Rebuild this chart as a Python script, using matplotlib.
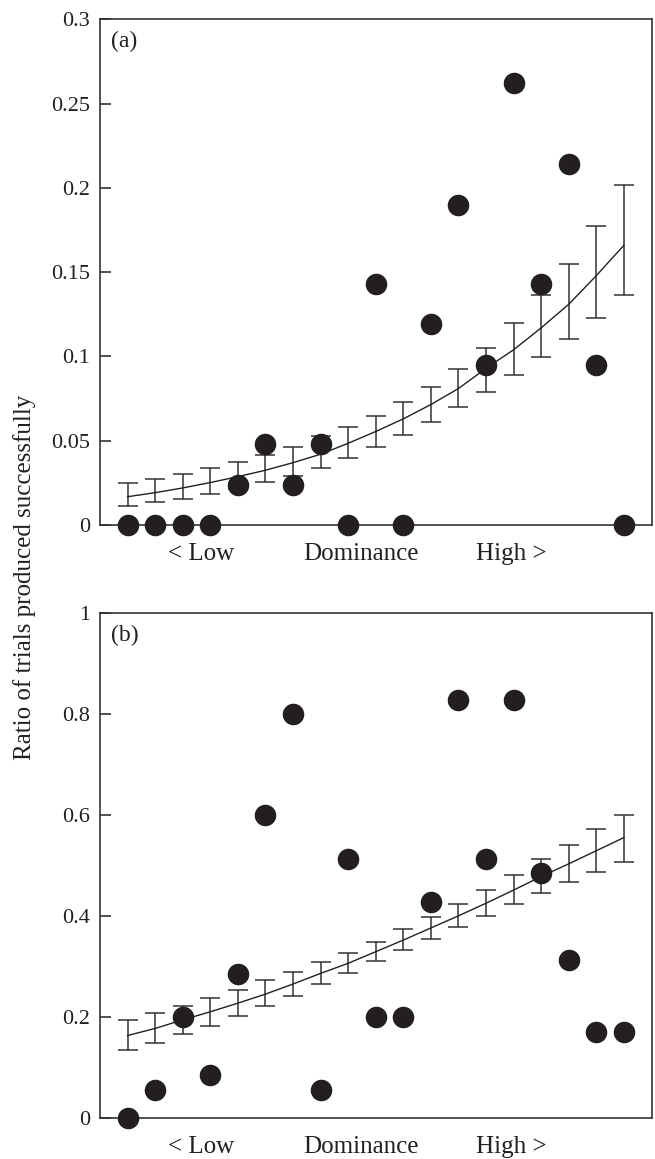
import matplotlib
matplotlib.use("Agg")
import matplotlib.pyplot as plt
from matplotlib.ticker import FuncFormatter

plt.rcParams['font.family'] = ['Liberation Serif', 'DejaVu Serif']

# dominance rank (1 = lowest)
rank = list(range(1, 20))

# panel (a): observed ratios and fitted curve with CI
obs_a = [0, 0, 0, 0, 0.024, 0.048, 0.024, 0.048, 0, 0.143,
         0, 0.119, 0.190, 0.095, 0.262, 0.143, 0.214, 0.095, 0]
fit_a = [0.0168, 0.0192, 0.0220, 0.0252, 0.0287, 0.0325, 0.0370, 0.0420, 0.0485, 0.0555,
         0.0630, 0.0715, 0.0810, 0.0930, 0.1040, 0.1170, 0.1310, 0.1480, 0.1660]
lo_a = [0.0113, 0.0139, 0.0154, 0.0186, 0.0215, 0.0254, 0.0290, 0.0340, 0.0400, 0.0461,
        0.0533, 0.0613, 0.0699, 0.0792, 0.0891, 0.0996, 0.1106, 0.1227, 0.1362]
hi_a = [0.0248, 0.0273, 0.0303, 0.0340, 0.0376, 0.0416, 0.0465, 0.0530, 0.0582, 0.0649,
        0.0729, 0.0820, 0.0925, 0.1050, 0.1196, 0.1366, 0.1550, 0.1776, 0.2019]

# panel (b)
obs_b = [0, 0.057, 0.2, 0.086, 0.286, 0.6, 0.8, 0.057, 0.514, 0.2,
         0.2, 0.429, 0.829, 0.514, 0.829, 0.486, 0.314, 0.171, 0.171]
fit_b = [0.164, 0.178, 0.195, 0.211, 0.228, 0.246, 0.266, 0.287, 0.307, 0.330,
         0.353, 0.377, 0.401, 0.426, 0.452, 0.479, 0.504, 0.530, 0.556]
lo_b = [0.135, 0.150, 0.167, 0.183, 0.203, 0.222, 0.243, 0.266, 0.288, 0.312,
        0.334, 0.356, 0.379, 0.401, 0.424, 0.446, 0.467, 0.488, 0.508]
hi_b = [0.195, 0.209, 0.223, 0.239, 0.255, 0.273, 0.289, 0.310, 0.328, 0.350,
        0.374, 0.399, 0.424, 0.452, 0.482, 0.513, 0.541, 0.572, 0.601]

dom_labels = ['< Low', 'Dominance', 'High >']
dom_pos = [3.65, 9.45, 14.9]

ink = '#231f20'
line_col = '#333333'

fig = plt.figure(figsize=(6.55, 11.59), dpi=100)
ax_a = fig.add_axes([0.1527, 0.547, 0.842, 0.4363])
ax_b = fig.add_axes([0.1527, 0.0351, 0.842, 0.4357])


def draw_panel(ax, obs, fit, lo, hi, ylim, yticks, tag):
    yerr = [[f - l for f, l in zip(fit, lo)], [h - f for f, h in zip(fit, hi)]]
    ax.errorbar(rank, fit, yerr=yerr, fmt='-', color=ink, lw=1.0,
                ecolor=line_col, elinewidth=1.1, capsize=7.5, capthick=1.1, zorder=2)
    ax.plot(rank, obs, 'o', ms=14.5, color=ink, clip_on=False, zorder=3)
    ax.set_xlim(0, 20)
    ax.set_ylim(*ylim)
    ax.set_yticks(yticks)
    ax.yaxis.set_major_formatter(FuncFormatter(lambda v, p: f'{v:g}'))
    ax.set_xticks(dom_pos)
    ax.set_xticklabels(dom_labels)
    ax.tick_params(axis='x', length=0, pad=13, labelsize=18, colors=ink)
    ax.tick_params(axis='y', direction='in', length=8, width=1.1, labelsize=16,
                   colors=ink, pad=7)
    for s in ax.spines.values():
        s.set_color(line_col)
        s.set_linewidth(1.2)
    ax.text(0.02, 0.978, tag, transform=ax.transAxes, ha='left', va='top',
            fontsize=17, color=ink)


draw_panel(ax_a, obs_a, fit_a, lo_a, hi_a, (0, 0.3),
           [0, 0.05, 0.1, 0.15, 0.2, 0.25, 0.3], '(a)')
draw_panel(ax_b, obs_b, fit_b, lo_b, hi_b, (0, 1),
           [0, 0.2, 0.4, 0.6, 0.8, 1], '(b)')

fig.text(0.038, 0.5017, 'Ratio of trials produced successfully', rotation=90,
         ha='center', va='center', fontsize=18, color=ink)

fig.savefig('out.png', dpi=100, facecolor='white')
